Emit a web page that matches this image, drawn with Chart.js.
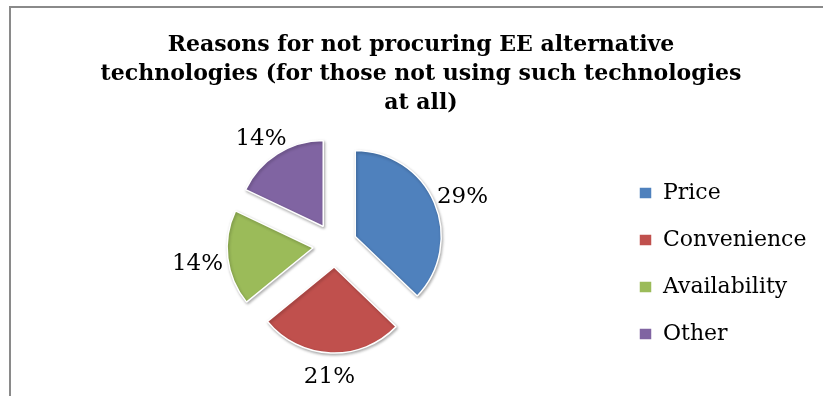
<!DOCTYPE html>
<html>
<head>
<meta charset="utf-8">
<title>Reasons for not procuring EE alternative technologies</title>
<script src="https://cdn.jsdelivr.net/npm/chart.js@4.4.1/dist/chart.umd.min.js"></script>
<style>
	html, body { margin: 0; padding: 0; background: #fff; overflow: hidden; }
	#frame {
		position: absolute; left: 9px; top: 6px; width: 900px; height: 500px;
		border-left: 2px solid #8a8a8a; border-top: 2px solid #8a8a8a;
	}
	#wrap { position: absolute; left: 0; top: 0; width: 823px; height: 396px; }
</style>
</head>
<body>
<div id="frame"></div>
<div id="wrap"><canvas id="myChart" width="823" height="396"></canvas></div>
<script>
const titleLines = [
	'Reasons for not procuring EE alternative',
	'technologies (for those not using such technologies',
	'at all)'
]
const reasons = ['Price', 'Convenience', 'Availability', 'Other']
const shares = [29, 21, 14, 14]
const sliceColors = ['#4F81BD', '#C0504D', '#9BBB59', '#8064A2']

const serif = "'DejaVu Serif', 'Liberation Serif', serif"
const explode = 22

// pull every slice out from the centre along its middle angle, with a soft shadow
const baseArcDraw = Chart.ArcElement.prototype.draw
Chart.ArcElement.prototype.draw = function (ctx) {
	const mid = (this.startAngle + this.endAngle) / 2
	ctx.save()
	ctx.translate(Math.cos(mid) * explode, Math.sin(mid) * explode)
	ctx.shadowColor = 'rgba(0, 0, 0, 0.3)'
	ctx.shadowBlur = 3
	ctx.shadowOffsetX = 1
	ctx.shadowOffsetY = 1.5
	baseArcDraw.call(this, ctx)
	ctx.restore()
}

// percentage text just outside each slice
const pctLabels = {
	id: 'pctLabels',
	afterDatasetsDraw(chart) {
		const ctx = chart.ctx
		const meta = chart.getDatasetMeta(0)
		ctx.save()
		ctx.font = '23px ' + serif
		ctx.fillStyle = '#000'
		ctx.textAlign = 'center'
		ctx.textBaseline = 'middle'
		meta.data.forEach((arc, i) => {
			const text = shares[i] + '%'
			const mid = (arc.startAngle + arc.endAngle) / 2
			const dx = Math.cos(mid)
			const dy = Math.sin(mid)
			const r = arc.outerRadius + explode + 5
			const w = ctx.measureText(text).width
			ctx.fillText(text, arc.x + dx * (r + w / 2), arc.y + dy * (r + 16) + 3)
		})
		ctx.restore()
	}
}

const ctx = document.getElementById('myChart')
const chart = new Chart(ctx, {
	type: 'pie',
	data: {
		labels: reasons,
		datasets: [{
			data: shares,
			backgroundColor: sliceColors,
			borderColor: '#fff',
			borderWidth: 1.5
		}]
	},
	options: {
		responsive: false,
		animation: false,
		radius: 86,
		layout: {
			padding: { left: 56, right: 37, top: 0, bottom: 26 }
		},
		plugins: {
			title: {
				display: true,
				text: titleLines,
				color: '#000',
				font: {
					family: serif,
					size: 22,
					weight: 'bold',
					lineHeight: 1.32
				},
				padding: { top: 30.5, bottom: 2.5 }
			},
			legend: {
				position: 'right',
				align: 'end',
				maxWidth: 172,
				labels: {
					boxWidth: 13,
					boxHeight: 12,
					padding: 25,
					color: '#000',
					font: { family: serif, size: 22 }
				}
			},
			tooltip: { enabled: false }
		}
	},
	plugins: [pctLabels]
})

// the legend is kept narrow so the pie sits left of centre; let its text run past that box
chart.legend.draw = function () {
	if (this.options.display) this._draw()
}
chart.draw()
</script>
</body>
</html>
